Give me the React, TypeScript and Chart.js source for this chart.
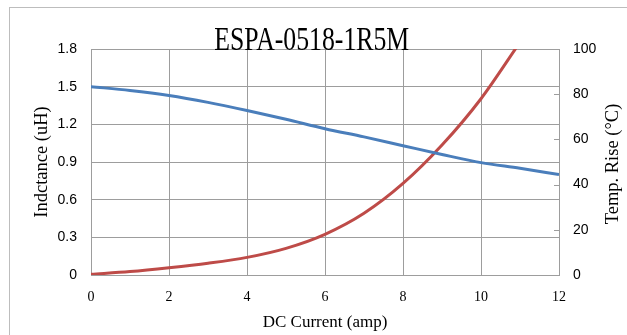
import React, { useEffect, useRef } from 'react';
import { Chart, registerables } from 'chart.js';

Chart.register(...registerables);

const chartTitle = 'ESPA-0518-1R5M';
const xAxisTitle = 'DC Current (amp)';
const leftAxisTitle = 'Indctance (uH)';
const rightAxisTitle = 'Temp. Rise (°C)';

const inductanceCurrent = [0, 1, 2, 3, 4, 5, 6, 7, 8, 9, 10, 11, 12];
const inductanceUH = [1.5, 1.47, 1.43, 1.375, 1.31, 1.24, 1.165, 1.1, 1.03, 0.96, 0.895, 0.85, 0.8];

const tempCurrent = [0, 1, 2, 3, 4, 5, 6, 7, 8, 9, 10, 11];
const tempRiseC = [0.3, 1.5, 3.2, 5.2, 7.8, 11.8, 18, 27.3, 40.5, 57.5, 78, 103];

const xTickValues = [0, 2, 4, 6, 8, 10, 12];
const xTickLabels = ['0', '2', '4', '6', '8', '10', '12'];
const leftTickValues = [0, 0.3, 0.6, 0.9, 1.2, 1.5, 1.8];
const leftTickLabels = ['0', '0.3', '0.6', '0.9', '1.2', '1.5', '1.8'];
const rightTickValues = [0, 20, 40, 60, 80, 100];
const rightTickLabels = ['0', '20', '40', '60', '80', '100'];

const gridColor = '#9d9d9d';
const blue = '#4a7ebb';
const red = '#be4b48';
const serif = '"Liberation Serif", "Times New Roman", serif';
const sans = '"Liberation Sans", Arial, sans-serif';

const overlayPlugin = {
  id: 'overlay',
  beforeDraw(chart: any) {
    const ctx = chart.ctx;
    ctx.save();
    ctx.fillStyle = '#ffffff';
    ctx.fillRect(0, 0, chart.width, chart.height);
    ctx.strokeStyle = '#bdbdbd';
    ctx.lineWidth = 1;
    ctx.strokeRect(9.5, 7.5, chart.width + 50, chart.height + 50);
    ctx.restore();
  },
  afterDraw(chart: any) {
    const { ctx, chartArea, scales } = chart;
    ctx.save();
    ctx.strokeStyle = gridColor;
    ctx.lineWidth = 1;
    for (const v of rightTickValues) {
      const y = Math.round(scales.y1.getPixelForValue(v)) + 0.5;
      ctx.beginPath();
      ctx.moveTo(chartArea.right - 5, y);
      ctx.lineTo(chartArea.right, y);
      ctx.stroke();
    }
    ctx.restore();

    ctx.save();
    ctx.fillStyle = '#000';
    ctx.font = '33px ' + serif;
    ctx.textAlign = 'center';
    ctx.textBaseline = 'alphabetic';
    ctx.translate(chart.width / 2 - 1.8, chartArea.top + 1);
    ctx.scale(0.78, 1);
    ctx.fillText(chartTitle, 0, 0);
    ctx.restore();

    ctx.save();
    ctx.fillStyle = '#000';
    ctx.translate(612.9, (chartArea.top + chartArea.bottom) / 2 + 2);
    ctx.rotate(-Math.PI / 2);
    ctx.font = '18.5px ' + serif;
    ctx.textAlign = 'center';
    ctx.textBaseline = 'middle';
    ctx.fillText(rightAxisTitle, 0, 0);
    ctx.restore();
  },
};

export default function App() {
  const canvasRef = useRef<HTMLCanvasElement>(null);

  useEffect(() => {
    const canvas = canvasRef.current;
    if (!canvas) return;
    const chart = new Chart(canvas, {
      type: 'line',
      data: {
        datasets: [
          {
            label: 'Inductance',
            data: inductanceCurrent.map((x, i) => ({ x, y: inductanceUH[i] })),
            borderColor: blue,
            borderWidth: 3,
            pointRadius: 0,
            cubicInterpolationMode: 'monotone',
            yAxisID: 'y',
          },
          {
            label: 'Temp Rise',
            data: tempCurrent.map((x, i) => ({ x, y: tempRiseC[i] })),
            borderColor: red,
            borderWidth: 3,
            pointRadius: 0,
            cubicInterpolationMode: 'monotone',
            yAxisID: 'y1',
          },
        ],
      },
      options: {
        animation: false,
        responsive: false,
        layout: { padding: { left: 9, top: 49, right: 0, bottom: 0 } },
        plugins: {
          legend: { display: false },
          tooltip: { enabled: false },
          title: { display: false },
        },
        scales: {
          x: {
            type: 'linear',
            min: 0,
            max: 12,
            afterBuildTicks: (s: any) => {
              s.ticks = xTickValues.map((v) => ({ value: v }));
            },
            afterFit: (s: any) => {
              s.height = 60;
            },
            grid: { color: gridColor, lineWidth: 1, drawTicks: false },
            border: { display: true, color: gridColor },
            ticks: {
              padding: 14,
              color: '#000',
              font: { family: serif, size: 14 },
              maxRotation: 0,
              autoSkip: false,
              callback: (_v: any, i: number) => xTickLabels[i],
            },
            title: {
              display: true,
              text: xAxisTitle,
              color: '#000',
              font: { family: serif, size: 17 },
              padding: { top: 0, bottom: 2 },
            },
          },
          y: {
            type: 'linear',
            position: 'left',
            min: 0,
            max: 1.8,
            afterBuildTicks: (s: any) => {
              s.ticks = leftTickValues.map((v) => ({ value: v }));
            },
            afterFit: (s: any) => {
              s.width = 82;
            },
            grid: { color: gridColor, lineWidth: 1, drawTicks: false },
            border: { display: true, color: gridColor },
            ticks: {
              padding: 14,
              color: '#000',
              font: { family: sans, size: 14 },
              autoSkip: false,
              callback: (_v: any, i: number) => leftTickLabels[i],
            },
            title: {
              display: true,
              text: leftAxisTitle,
              color: '#000',
              font: { family: serif, size: 18.5 },
              padding: { top: 21.8, bottom: 0 },
            },
          },
          y1: {
            type: 'linear',
            position: 'right',
            min: 0,
            max: 100,
            afterBuildTicks: (s: any) => {
              s.ticks = rightTickValues.map((v) => ({ value: v }));
            },
            afterFit: (s: any) => {
              s.width = 68;
            },
            grid: { drawOnChartArea: false, drawTicks: false },
            border: { display: false },
            ticks: {
              padding: 14,
              color: '#000',
              font: { family: sans, size: 14 },
              autoSkip: false,
              callback: (_v: any, i: number) => rightTickLabels[i],
            },
          },
        },
      },
      plugins: [overlayPlugin],
    } as any);
    return () => chart.destroy();
  }, []);

  return (
    <div style={{ position: 'fixed', left: 0, top: 0, width: 627, height: 335 }}>
      <canvas ref={canvasRef} width={627} height={335} style={{ display: 'block', width: 627, height: 335 }} />
    </div>
  );
}
